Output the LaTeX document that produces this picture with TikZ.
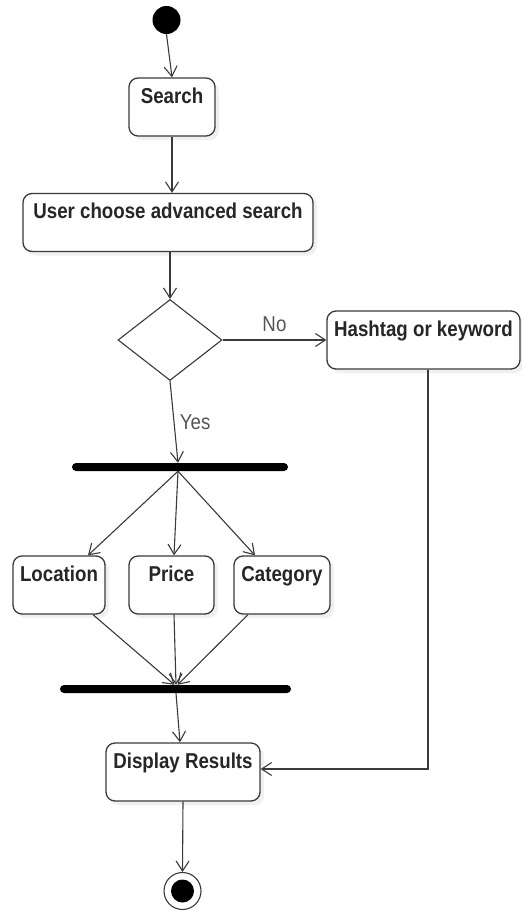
\documentclass[tikz,border=0pt]{standalone}
\usepackage{fontspec}
\setmainfont{Liberation Sans}[FakeStretch=0.87]
\usetikzlibrary{arrows.meta,shapes.geometric,shadows}
\definecolor{linegray}{HTML}{3A3A3A}
\definecolor{labelgray}{HTML}{555555}
\begin{document}
\begin{tikzpicture}[
		x=1pt, y=-1pt,
		every node/.style={font=\fontsize{21.5}{25}\selectfont},
		activity/.style={draw=linegray, line width=1.3pt, rounded corners=9pt, fill=white,
				text=black!85, font=\fontsize{21.5}{25}\selectfont\bfseries,
				inner ysep=0pt, text height=25pt, text depth=33pt,
				drop shadow={opacity=0.12, shadow xshift=4pt, shadow yshift=-4pt}},
		bar/.style={fill=black, rounded corners=4pt, minimum height=8pt, inner sep=0pt},
		flow/.style={draw=linegray, line width=1.1pt, -{Straight Barb[length=10pt,width=13pt]}},
		guard/.style={text=labelgray}
	]
	\useasboundingbox (0,0) rectangle (522,913);
	\node[circle, fill=black, minimum size=28pt, inner sep=0pt] (start) at (166.5,20) {};
	\node[activity, minimum width=86pt] (search) at (172,107) {Search};
	\node[activity, minimum width=290pt] (advanced) at (168,222.5) {User choose advanced search};
	\node[diamond, draw=linegray, line width=1.1pt, fill=white, inner sep=0pt, aspect=1.28,
		minimum width=104pt, minimum height=81pt] (decision) at (170,340) {};
	\node[activity, minimum width=193pt] (hashtag) at (423.5,340) {Hashtag or keyword};
	\node[bar, minimum width=216pt] (fork) at (180,467) {};
	\node[activity, minimum width=92pt] (location) at (59,585) {Location};
	\node[activity, minimum width=85pt] (price) at (171.5,585) {Price};
	\node[activity, minimum width=96pt] (category) at (282,585) {Category};
	\node[bar, minimum width=231pt] (join) at (175.5,689) {};
	\node[activity, minimum width=154pt] (display) at (183,772) {Display Results};
	\node[circle, draw=linegray, line width=1.1pt, minimum size=37pt, inner sep=0pt] (finish) at (182.5,891) {};
	\node[circle, fill=black, minimum size=23pt, inner sep=0pt] at (finish) {};

	\draw[flow] (start.south) -- (search.north);
	\draw[flow] (search.south) -- (search.south |- advanced.north);
	\draw[flow] (advanced.south -| decision.north) -- (decision.north);
	\draw[flow] (decision.east) -- node[guard, above, yshift=4pt] {No} (hashtag.west);
	\draw[flow] (decision.south) -- node[guard, right, xshift=2pt] {Yes} ([xshift=-2pt]fork.north);
	\draw[flow] ([xshift=-2pt]fork.south) -- ([xshift=29pt]location.north);
	\draw[flow] ([xshift=-2pt]fork.south) -- ([xshift=2.5pt]price.north);
	\draw[flow] ([xshift=-2pt]fork.south) -- ([xshift=-27pt]category.north);
	\draw[flow] ([xshift=34pt]location.south) -- ([xshift=-1pt]join.north);
	\draw[flow] ([xshift=2.5pt]price.south) -- ([xshift=0.5pt]join.north);
	\draw[flow] ([xshift=-34pt]category.south) -- ([xshift=2pt]join.north);
	\draw[flow] ([xshift=0.5pt]join.south) -- ([xshift=-3pt]display.north);
	\draw[flow] ([xshift=4.5pt]hashtag.south) |- ([yshift=3pt]display.east);
	\draw[flow] (display.south) -- (finish.north);
\end{tikzpicture}
\end{document}
